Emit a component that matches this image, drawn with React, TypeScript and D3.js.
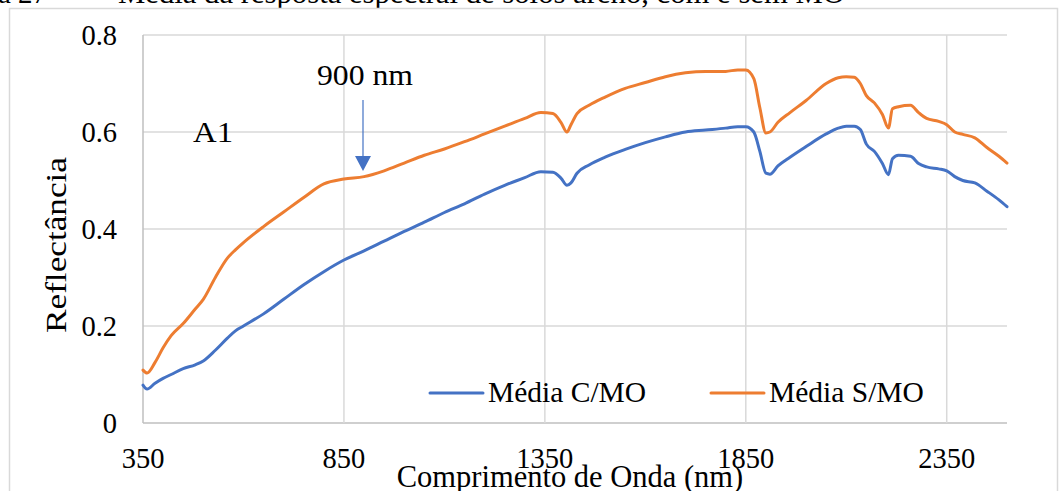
import React from "react";
import * as d3 from "d3";

const wavelengths = [350, 360, 380, 400, 420, 450, 480, 500, 530, 560, 580, 600, 650, 700, 750, 800, 850, 900, 950, 1000, 1050, 1100, 1150, 1200, 1250, 1300, 1340, 1370, 1390, 1405, 1415, 1430, 1460, 1500, 1550, 1600, 1650, 1700, 1750, 1800, 1830, 1850, 1870, 1885, 1900, 1910, 1930, 1960, 2000, 2050, 2080, 2100, 2120, 2135, 2150, 2170, 2190, 2205, 2215, 2230, 2260, 2280, 2300, 2330, 2350, 2370, 2390, 2420, 2450, 2480, 2500];

const mediaCMO = [0.078, 0.07, 0.082, 0.092, 0.1, 0.112, 0.12, 0.128, 0.15, 0.175, 0.19, 0.2, 0.225, 0.255, 0.285, 0.312, 0.336, 0.355, 0.375, 0.395, 0.414, 0.434, 0.452, 0.472, 0.49, 0.506, 0.518, 0.517, 0.505, 0.49, 0.495, 0.515, 0.532, 0.548, 0.564, 0.578, 0.59, 0.6, 0.604, 0.608, 0.611, 0.611, 0.6, 0.56, 0.515, 0.513, 0.53, 0.548, 0.57, 0.596, 0.608, 0.612, 0.612, 0.605, 0.575, 0.56, 0.535, 0.512, 0.545, 0.552, 0.55, 0.535, 0.528, 0.524, 0.52, 0.508, 0.5, 0.495, 0.478, 0.46, 0.446];

const mediaSMO = [0.109, 0.103, 0.125, 0.155, 0.18, 0.205, 0.235, 0.255, 0.3, 0.34, 0.357, 0.372, 0.405, 0.435, 0.465, 0.493, 0.503, 0.508, 0.52, 0.536, 0.552, 0.565, 0.58, 0.596, 0.612, 0.628, 0.64, 0.638, 0.62, 0.6, 0.615, 0.638, 0.655, 0.672, 0.69, 0.702, 0.714, 0.722, 0.725, 0.725, 0.728, 0.728, 0.71, 0.65, 0.598, 0.6, 0.62, 0.64, 0.665, 0.7, 0.712, 0.714, 0.713, 0.7, 0.675, 0.66, 0.636, 0.608, 0.648, 0.652, 0.655, 0.64, 0.628, 0.622, 0.615, 0.6, 0.595, 0.588, 0.568, 0.55, 0.536];

const xTicks = [350, 850, 1350, 1850, 2350];
const yTicks = [0, 0.2, 0.4, 0.6, 0.8];
const seriesNames = ["Média C/MO", "Média S/MO"];
const seriesColors = ["#4472C4", "#ED7D31"];

const FONT = "'Liberation Serif', 'Times New Roman', serif";

export default function App() {
  const left = 143, right = 1007, top = 35, bottom = 423;
  const x = d3.scaleLinear().domain([350, 2500]).range([left, right]);
  const y = d3.scaleLinear().domain([0, 0.8]).range([bottom, top]);
  const line = d3
    .line<number>()
    .x((_, i) => x(wavelengths[i]))
    .y((d) => y(d))
    .curve(d3.curveMonotoneX);
  const series = [mediaCMO, mediaSMO];

  return (
    <div style={{ position: "fixed", left: 0, top: 0 }}>
      <svg width={1059} height={491} style={{ display: "block", background: "#fff" }} fontFamily={FONT}>
        <text x={-2} y={3} fontSize={29} fill="#000">a 27 –</text>
        <text x={118} y={3} fontSize={29} fill="#000" textLength={727} lengthAdjust="spacingAndGlyphs">Média da resposta espectral de solos areno, com e sem MO</text>
        <rect x={9.5} y={8.5} width={1048} height={500} fill="none" stroke="#d9d9d9" strokeWidth={1.5} />
        {yTicks.map((t) => (
          <line key={"gy" + t} x1={left} x2={right} y1={y(t)} y2={y(t)} stroke={t === 0 ? "#bfbfbf" : "#d9d9d9"} strokeWidth={1.5} />
        ))}
        {xTicks.slice(1).map((t) => (
          <line key={"gx" + t} x1={x(t)} x2={x(t)} y1={top} y2={bottom} stroke="#d9d9d9" strokeWidth={1.5} />
        ))}
        <line x1={left} x2={left} y1={top} y2={bottom} stroke="#bfbfbf" strokeWidth={1.5} />
        {yTicks.map((t) => (
          <text key={"ty" + t} x={117} y={y(t) + 9.5} fontSize={28.5} textAnchor="end" fill="#000">
            {t === 0 ? "0" : t.toFixed(1)}
          </text>
        ))}
        {xTicks.map((t) => (
          <text key={"tx" + t} x={x(t)} y={468} fontSize={28.5} textAnchor="middle" fill="#000">
            {t}
          </text>
        ))}
        <text x={570} y={487} fontSize={30.5} textAnchor="middle" fill="#000">Comprimento de Onda (nm)</text>
        <text transform="translate(66,245) rotate(-90)" fontSize={30} textAnchor="middle" fill="#000" textLength={176} lengthAdjust="spacingAndGlyphs">Reflectância</text>
        {series.map((s, i) => (
          <path key={"s" + i} d={line(s) || ""} fill="none" stroke={seriesColors[i]} strokeWidth={3} strokeLinejoin="round" strokeLinecap="round" />
        ))}
        <text x={193} y={142} fontSize={30} fill="#000" textLength={40} lengthAdjust="spacingAndGlyphs">A1</text>
        <text x={317} y={85} fontSize={30} fill="#000" textLength={96} lengthAdjust="spacingAndGlyphs">900 nm</text>
        <line x1={363} x2={363} y1={100} y2={158} stroke="#4472C4" strokeWidth={1.2} />
        <path d="M355,156 L371,156 L363,171 Z" fill="#4472C4" />
        {seriesNames.map((n, i) => {
          const lx = i === 0 ? 430 : 711;
          return (
            <g key={"lg" + i}>
              <line x1={lx} x2={lx + 53} y1={393} y2={393} stroke={seriesColors[i]} strokeWidth={3} strokeLinecap="round" />
              <text x={lx + 58} y={402} fontSize={29.5} fill="#000">{n}</text>
            </g>
          );
        })}
      </svg>
    </div>
  );
}
